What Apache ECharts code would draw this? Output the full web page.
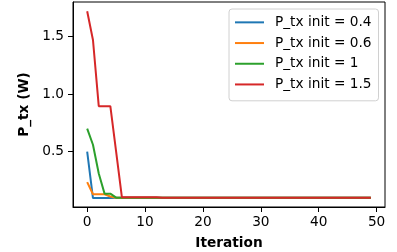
<!DOCTYPE html>
<html><head><meta charset="utf-8">
<script src="https://cdn.jsdelivr.net/npm/echarts@6/dist/echarts.min.js"></script>
<style>html,body{margin:0;padding:0;background:#fff}#c{width:397px;height:252px}</style>
</head><body><div id="c"></div>
<script>
const iterations = [0,1,2,3,4,5,6,7,8,9,10,11,12,13,14,15,16,17,18,19,20,21,22,23,24,25,26,27,28,29,30,31,32,33,34,35,36,37,38,39,40,41,42,43,44,45,46,47,48,49];
const seriesNames = ['P_tx init = 0.4','P_tx init = 0.6','P_tx init = 1','P_tx init = 1.5'];
const p04 = [0.50,0.097,0.097,0.097,0.097,0.1,0.1,0.1,0.1,0.1,0.1,0.1,0.1,0.1,0.1,0.1,0.1,0.1,0.1,0.1,0.1,0.1,0.1,0.1,0.1,0.1,0.1,0.1,0.1,0.1,0.1,0.1,0.1,0.1,0.1,0.1,0.1,0.1,0.1,0.1,0.1,0.1,0.1,0.1,0.1,0.1,0.1,0.1,0.1,0.1];
const p06 = [0.235,0.13,0.13,0.13,0.11,0.1,0.1,0.1,0.1,0.1,0.1,0.1,0.1,0.1,0.1,0.1,0.1,0.1,0.1,0.1,0.1,0.1,0.1,0.1,0.1,0.1,0.1,0.1,0.1,0.1,0.1,0.1,0.1,0.1,0.1,0.1,0.1,0.1,0.1,0.1,0.1,0.1,0.1,0.1,0.1,0.1,0.1,0.1,0.1,0.1];
const p1 = [0.70,0.56,0.31,0.135,0.135,0.1,0.1,0.1,0.1,0.1,0.1,0.1,0.1,0.1,0.1,0.1,0.1,0.1,0.1,0.1,0.1,0.1,0.1,0.1,0.1,0.1,0.1,0.1,0.1,0.1,0.1,0.1,0.1,0.1,0.1,0.1,0.1,0.1,0.1,0.1,0.1,0.1,0.1,0.1,0.1,0.1,0.1,0.1,0.1,0.1];
const p15 = [1.72,1.47,0.895,0.895,0.895,0.5,0.103,0.103,0.103,0.103,0.103,0.103,0.103,0.1,0.1,0.1,0.1,0.1,0.1,0.1,0.1,0.1,0.1,0.1,0.1,0.1,0.1,0.1,0.1,0.1,0.1,0.1,0.1,0.1,0.1,0.1,0.1,0.1,0.1,0.1,0.1,0.1,0.1,0.1,0.1,0.1,0.1,0.1,0.1,0.1];
const xTicks = [0,10,20,30,40,50];
const yTicks = [0.5,1.0,1.5];
const colors = ['#1f77b4','#ff7f0e','#2ca02c','#d62728'];
const allY = [p04,p06,p1,p15];

const chart = echarts.init(document.getElementById('c'), null, {renderer:'canvas'});
const font = 'DejaVu Sans';
const fs = 13.7;
chart.setOption({
  animation:false,
  backgroundColor:'#fff',
  color: colors,
  grid:{left:73,right:12,top:2,bottom:45,containLabel:false,outerBoundsMode:'none',show:true,borderColor:'#000',borderWidth:1,backgroundColor:'transparent'},
  xAxis:{type:'value',min:-2.45,max:51.45,
    name:'Iteration',nameLocation:'middle',nameGap:29,
    nameTextStyle:{fontFamily:font,fontSize:fs,fontWeight:'bold',color:'#000'},
    axisLine:{show:true,onZero:false,lineStyle:{color:'#000',width:1}},
    axisTick:{show:true,customValues:xTicks,length:5,inside:false,lineStyle:{color:'#000'}},
    axisLabel:{customValues:xTicks,margin:8,fontFamily:font,fontSize:fs,color:'#000'},
    splitLine:{show:false}},
  yAxis:{type:'value',min:0.019,max:1.80,
    name:'P_tx (W)',nameLocation:'middle',nameGap:33,
    nameTextStyle:{fontFamily:font,fontSize:fs,fontWeight:'bold',color:'#000'},
    axisLine:{show:true,onZero:false,lineStyle:{color:'#000',width:1}},
    axisTick:{show:true,customValues:yTicks,length:5,lineStyle:{color:'#000'}},
    axisLabel:{customValues:yTicks,margin:9,fontFamily:font,fontSize:fs,color:'#000',formatter:v=>v.toFixed(1)},
    splitLine:{show:false}},
  legend:{orient:'vertical',left:229,top:9,
    data:seriesNames.map(n=>({name:n,icon:'rect'})),
    itemWidth:29,itemHeight:2,itemGap:6,
    padding:[6,7,9,6],
    borderColor:'#d0d0d0',borderWidth:1,borderRadius:3,backgroundColor:'rgba(255,255,255,0.8)',
    textStyle:{fontFamily:font,fontSize:fs,color:'#000',padding:[0,0,0,6],lineHeight:14.7}},
  series: seriesNames.map((n,i)=>({name:n,type:'line',showSymbol:false,symbol:'none',
    lineStyle:{width:2,color:colors[i]},
    data: iterations.map((x,j)=>[x,allY[i][j]])}))
});
</script></body></html>
